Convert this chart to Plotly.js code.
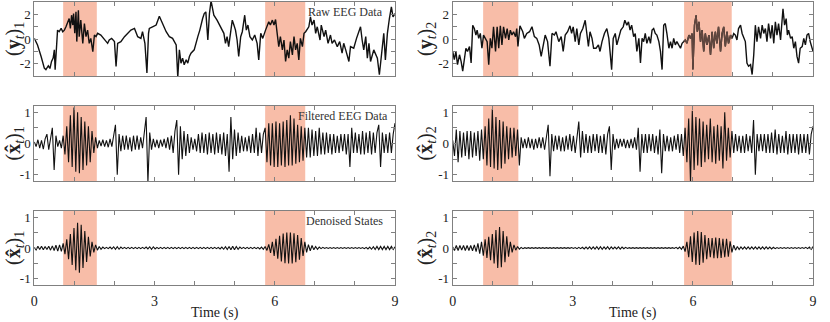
<!DOCTYPE html>
<html>
<head>
<meta charset="utf-8">
<script src="https://cdn.plot.ly/plotly-3.0.1.min.js"></script>
<style>html,body{margin:0;padding:0;background:#fff}#chart{width:830px;height:322px}</style>
</head>
<body>
<div id="chart"></div>
<script>
// ---- Data ----
const rawT1 = [0,0.08,0.17,0.25,0.29,0.35,0.39,0.43,0.47,0.50,0.52,0.56,0.58,0.62,0.67,0.71,0.75,0.79,0.83,0.87,0.90,0.93,0.96,0.98,1.01,1.04,1.06,1.10,1.12,1.16,1.21,1.25,1.29,1.33,1.37,1.41,1.46,1.50,1.54,1.58,1.66,1.75,1.83,1.87,1.93,2.00,2.04,2.08,2.16,2.25,2.33,2.41,2.50,2.58,2.66,2.70,2.76,2.81,2.85,2.87,2.95,3.04,3.12,3.16,3.20,3.29,3.37,3.45,3.54,3.58,3.62,3.66,3.70,3.74,3.79,3.83,3.87,3.91,3.99,4.03,4.08,4.13,4.16,4.20,4.24,4.28,4.33,4.37,4.41,4.48,4.56,4.65,4.73,4.77,4.81,4.85,4.90,4.94,4.98,5.02,5.06,5.10,5.15,5.19,5.25,5.29,5.33,5.38,5.44,5.50,5.56,5.60,5.65,5.70,5.77,5.81,5.85,5.89,5.94,5.98,6.02,6.06,6.10,6.14,6.19,6.23,6.27,6.31,6.35,6.39,6.44,6.48,6.52,6.56,6.60,6.64,6.69,6.73,6.77,6.85,6.89,6.93,6.98,7.02,7.06,7.13,7.16,7.23,7.27,7.33,7.39,7.43,7.49,7.56,7.62,7.68,7.72,7.77,7.85,7.89,7.97,8.04,8.10,8.14,8.18,8.22,8.27,8.31,8.35,8.39,8.47,8.56,8.61,8.68,8.72,8.76,8.81,8.86,8.91,8.95,9.00];
const rawV1 = [0.05,-0.48,-1.42,-2.36,-2.49,-2.17,-2.39,-1.82,-1.55,-0.88,
-2.49,-0.08,0.72,0.59,0.86,0.59,0.72,0.99,1.26,1.66,
0.86,1.93,1.13,2.06,0.46,2.2,-0.21,2.33,0.19,1.53,
-0.35,1.26,0.19,0.72,-0.35,0.05,-1.02,0.32,0.19,0.46,
0.32,-0.08,-0.35,-0.08,0.05,-0.21,-2.23,-0.35,-0.21,0.19,
0.46,0.72,0.86,0.19,0.05,0.59,-0.35,-2.76,0.46,0.86,
0.99,1.13,1.85,1.53,1.26,0.59,0.19,0.05,-0.48,-3.1,
-0.88,-1.96,-1.55,-2.09,-1.69,-1.96,-1.42,-1.15,-0.88,-0.35,
0.19,0.72,1.26,1.66,2.06,2.2,-0.08,2.06,3.1,1.93,
1.53,0.99,0.46,-0.35,0.19,-0.62,0.46,1.53,1.13,0.72,
-0.08,-1.42,0.19,0.59,1.93,0.72,1.13,0.19,-0.08,0.32,
-0.35,-1.69,0.46,0.05,0.72,0.99,1.39,1.13,1.53,1.13,
1.58,0.46,-0.62,0.19,-0.88,-0.08,-1.82,-0.88,-1.55,-0.21,
-1.29,0.19,-0.88,-0.35,-1.69,0.05,-0.62,0.46,0.59,0.99,
1.8,1.13,1.53,0.46,0.99,-0.08,1.13,0.19,0.72,-0.35,
0.32,-0.35,-0.08,-0.62,-0.21,-1.15,-0.35,-0.88,-1.82,-0.62,
-0.75,0.05,0.59,0.99,-0.08,-0.88,0.19,-1.55,-0.35,-1.82,
-0.88,-1.55,-2.9,-0.35,0.46,-1.69,0.46,1.66,2.6,1.8,
2.06];

const rawT2 = [0,0.04,0.08,0.12,0.17,0.21,0.25,0.29,0.33,0.37,
0.42,0.46,0.50,0.54,0.58,0.61,0.65,0.69,0.73,0.77,
0.82,0.86,0.90,0.94,0.98,1.02,1.07,1.11,1.15,1.19,
1.23,1.27,1.32,1.36,1.40,1.44,1.48,1.52,1.57,1.60,
1.63,1.68,1.75,1.79,1.85,1.92,1.98,2.04,2.10,2.16,
2.21,2.25,2.31,2.37,2.43,2.48,2.54,2.58,2.65,2.71,
2.76,2.81,2.87,2.93,2.97,3.01,3.06,3.10,3.15,3.19,
3.25,3.31,3.35,3.39,3.43,3.48,3.52,3.58,3.64,3.68,
3.73,3.79,3.85,3.90,3.93,3.97,4.01,4.06,4.10,4.16,
4.20,4.26,4.30,4.35,4.39,4.43,4.47,4.52,4.56,4.60,
4.65,4.69,4.73,4.77,4.81,4.85,4.90,4.94,4.98,5.02,
5.06,5.10,5.15,5.19,5.23,5.27,5.31,5.35,5.40,5.44,
5.48,5.52,5.56,5.60,5.65,5.69,5.73,5.77,5.81,5.85,
5.90,5.94,5.98,6.00,6.04,6.08,6.11,6.15,6.19,6.23,
6.27,6.31,6.35,6.40,6.44,6.48,6.52,6.56,6.60,6.64,
6.69,6.73,6.77,6.81,6.85,6.89,6.94,6.98,7.02,7.06,
7.10,7.14,7.19,7.23,7.31,7.35,7.39,7.44,7.48,7.52,
7.56,7.60,7.64,7.69,7.73,7.77,7.81,7.85,7.89,7.94,
7.98,8.02,8.06,8.10,8.14,8.19,8.23,8.25,8.29,8.33,
8.36,8.39,8.44,8.48,8.52,8.56,8.60,8.64,8.68,8.73,
8.77,8.81,8.85,8.89,8.93,8.98,9.00];
const rawV2 = [-1.01,-1.68,-1.01,-2.08,-1.28,-1.81,-2.61,-1.55,-0.75,-1.01,
-0.61,-1.95,1.12,0.85,0.32,0.72,0.05,0.45,-0.75,0.32,
0.05,-0.21,-2.08,0.05,-0.75,0.99,-1.01,0.99,-0.75,1.07,
-0.48,0.99,0.05,0.85,-0.08,0.72,0.32,0.59,0.19,0.85,
-0.61,1.07,0.59,0.05,0.45,0.59,0.99,0.19,0.05,-0.48,
-1.41,-0.75,0.32,-0.21,-2.21,0.45,0.32,0.59,-0.21,0.19,
-1.01,0.32,0.59,1.07,0.45,0.99,-0.21,0.85,-0.48,0.45,
0.85,1.52,0.45,-0.61,0.59,0.05,-0.75,-0.75,-0.48,-1.01,
-0.21,0.45,0.85,0.05,-1.01,-2.48,0.05,0.45,-0.48,0.32,
0.72,0.99,1.52,1.12,1.39,0.72,1.12,0.19,0.45,-1.01,
0.05,-1.95,0.05,-0.21,0.45,-0.35,0.19,-0.35,0.72,0.85,
0.45,0.32,-0.21,-1.01,-2.48,1.12,1.25,0.45,-0.75,-0.21,
-0.75,0.05,-0.48,-0.21,-0.48,-0.75,-0.35,-0.21,-0.08,-0.35,
0.32,0.05,0.45,-2.48,1.12,1.92,0.59,1.39,-0.21,0.72,
-1.01,0.45,-0.48,0.32,-1.28,0.59,-0.75,0.59,-0.35,0.99,
-1.01,0.45,0.99,-0.61,0.59,-0.35,0.32,0.05,0.45,0.32,
-0.08,0.85,1.12,0.45,-0.21,-1.95,-2.21,-2.08,-2.88,-1.28,
1.12,-0.21,0.99,0.05,1.12,0.45,0.85,-0.21,1.25,0.05,
1.12,-0.35,1.39,0.32,1.25,-0.08,1.92,2.45,1.12,1.65,
0.32,0.72,0.05,0.19,-0.75,-0.21,-1.41,-1.95,-0.75,-0.61,
0.05,-0.48,0.32,0.45,-0.21,-0.75,-1.0];

// filtered and denoised series: one value every 0.045 s from 0 to 9 s
const sampleStep = 0.045;
const filt1 = [0.05,-0.1,0.12,-0.15,0.1,-0.18,0.15,0.3,-0.2,0.2,
0.5,-0.85,0.25,-0.1,0.1,-0.15,0.25,-0.35,0.55,-0.6,
0.9,-0.75,1.15,-0.9,1.0,-0.95,0.85,-0.85,0.7,-0.7,
0.55,-0.6,0.4,-0.3,0.2,-0.15,0.1,-0.08,0.12,-0.1,
0.1,-0.12,0.15,-0.1,0.2,0.6,-1.0,0.3,-0.25,0.25,
-0.2,0.25,-0.2,0.2,-0.25,0.25,-0.2,0.25,-0.2,0.2,
-0.15,0.3,0.85,-1.25,0.35,-0.2,0.15,-0.12,0.12,-0.15,
0.12,-0.1,0.15,-0.15,0.2,-0.2,0.25,-0.3,0.4,0.75,
-1.0,0.55,-0.5,0.4,-0.4,0.3,-0.3,0.2,-0.2,0.15,
-0.25,0.3,-0.3,0.35,-0.3,0.3,-0.35,0.35,-0.3,0.3,
-0.35,0.35,-0.3,0.3,-0.35,0.35,-0.4,0.3,-0.9,0.85,
-0.5,0.45,-0.4,0.35,-0.3,0.25,-0.25,0.2,-0.25,0.25,
-0.3,0.3,-0.3,0.5,-0.4,0.35,-0.3,0.3,0.5,-0.6,
0.65,-0.7,0.65,-0.75,0.7,-0.75,0.65,-0.7,0.7,-0.75,
0.75,-0.7,0.9,-0.7,0.8,-0.65,0.6,-0.6,0.55,-0.55,
0.5,-0.45,0.5,-0.45,0.45,-0.4,0.4,-0.4,0.5,-0.35,
0.35,-0.35,0.35,-0.3,0.3,-0.35,0.3,-0.3,0.25,-0.3,
0.3,-0.25,0.3,-0.35,0.3,-0.75,0.5,-0.3,0.35,-0.3,
0.3,-0.35,0.4,-0.35,0.35,-0.3,0.4,-0.35,0.35,-0.3,
0.35,0.6,-0.75,0.35,-0.3,0.3,-0.3,0.35,-0.3,0.3,
0.65];
const filt2 = [0.1,-0.4,0.45,-0.6,0.4,-0.45,0.35,-0.4,0.4,-0.5,
0.4,-0.45,0.35,-0.4,0.4,-0.55,0.45,-0.5,0.55,-0.7,
0.8,-0.75,1.1,-0.8,0.85,-0.85,0.75,-0.8,0.7,-0.65,
0.55,-0.5,0.5,-0.45,0.5,-0.4,0.45,-0.7,0.2,-0.15,
0.15,-0.15,0.2,-0.15,0.15,-0.2,0.15,-0.15,0.2,-0.15,
0.2,-0.2,0.2,0.6,-1.05,0.3,-0.25,0.25,-0.2,0.25,
-0.25,0.2,-0.25,0.25,-0.2,0.3,-0.25,0.25,-0.3,0.3,
0.7,-0.45,0.4,-0.3,0.3,-0.3,0.25,-0.3,0.3,-0.25,
0.3,-0.3,0.25,-0.3,0.3,-0.35,0.3,0.55,-0.85,0.3,
-0.2,0.15,-0.15,0.15,-0.1,0.15,-0.15,0.12,-0.15,0.15,
-0.15,0.2,-0.2,0.5,-0.9,0.3,-0.3,0.3,-0.3,0.3,
-0.25,0.3,-0.3,0.25,-0.35,0.45,-0.95,0.3,-0.25,0.25,
-0.25,0.2,-0.25,0.25,-0.2,0.3,-0.3,0.3,-0.4,0.5,
-0.6,0.8,-1.25,1.05,-0.85,0.85,-0.7,0.8,-0.75,0.7,
-0.6,0.6,-0.5,0.8,-0.6,0.55,-0.65,0.6,-0.55,0.55,
-0.8,1.0,-0.55,0.5,-0.45,0.4,-0.3,0.3,-0.25,0.25,
-0.3,0.25,-0.3,0.3,-0.25,0.25,-0.3,0.75,-1.0,0.3,
-0.25,0.3,-0.25,0.3,-0.3,0.3,-0.3,0.35,-0.3,0.45,
-0.35,0.3,-0.3,0.25,-0.3,0.4,-0.35,0.3,-0.3,0.3,
-0.3,0.3,-0.35,0.3,-0.3,0.3,-0.3,0.3,-0.35,0.3,
0.55];
const den1 = [0.02,-0.06,0.06,-0.05,0.06,-0.06,0.05,-0.05,0.06,-0.07,
0.07,-0.08,0.09,-0.1,0.1,-0.11,0.15,-0.2,0.28,-0.36,
0.45,-0.55,0.65,-0.72,0.82,-0.8,0.75,-0.65,0.55,-0.45,
0.36,-0.27,0.2,-0.14,0.1,-0.07,0.05,-0.04,0.03,-0.02,
0.02,-0.02,0.03,-0.03,0.04,-0.04,0.04,-0.04,0.03,-0.02,
0.02,-0.02,0.02,-0.02,0.02,-0.02,0.02,-0.02,0.02,-0.02,
0.02,-0.02,0.03,-0.03,0.04,-0.04,0.04,-0.03,0.02,-0.02,
0.02,-0.02,0.02,-0.02,0.02,-0.02,0.02,-0.02,0.02,-0.02,
0.02,-0.02,0.02,-0.02,0.02,-0.02,0.02,-0.02,0.02,-0.02,
0.02,-0.02,0.02,-0.02,0.02,-0.02,0.02,-0.02,0.02,-0.02,
0.02,-0.02,0.02,-0.03,0.03,-0.04,0.04,-0.05,0.05,-0.06,
0.06,-0.06,0.05,-0.04,0.03,-0.02,0.02,-0.02,0.02,-0.02,
0.02,-0.02,0.02,-0.02,0.02,-0.03,0.03,-0.04,0.05,-0.08,
0.12,-0.16,0.2,-0.26,0.3,-0.35,0.4,-0.44,0.47,-0.49,
0.5,-0.5,0.5,-0.5,0.48,-0.46,0.42,-0.38,0.32,-0.26,
0.2,-0.14,0.11,-0.09,0.08,-0.06,0.05,-0.04,0.03,-0.02,
0.02,-0.015,0.015,-0.015,0.015,-0.015,0.015,-0.015,0.015,-0.015,
0.015,-0.015,0.015,-0.015,0.015,-0.015,0.015,-0.015,0.015,-0.015,
0.015,-0.015,0.015,-0.02,0.02,-0.03,0.03,-0.04,0.04,-0.05,
0.05,-0.05,0.05,-0.05,0.05,-0.05,0.05,-0.05,0.05,-0.05,
0.04];
const den2 = [0.03,-0.08,0.08,-0.08,0.08,-0.07,0.08,-0.08,0.08,-0.08,
0.08,-0.09,0.1,-0.12,0.15,-0.18,0.2,-0.25,0.28,-0.32,
0.36,-0.4,0.45,-0.5,0.58,-0.65,0.68,-0.62,0.55,-0.46,
0.38,-0.28,0.2,-0.14,0.1,-0.07,0.05,-0.04,0.02,-0.02,
0.01,-0.01,0.01,-0.01,0.01,-0.01,0.01,-0.01,0.01,-0.01,
0.01,-0.01,0.01,-0.01,0.01,-0.01,0.01,-0.01,0.01,-0.01,
0.01,-0.01,0.01,-0.01,0.01,-0.01,0.015,-0.015,0.015,-0.02,
0.02,-0.02,0.025,-0.03,0.03,-0.03,0.035,-0.035,0.035,-0.035,
0.04,-0.04,0.04,-0.04,0.035,-0.035,0.04,-0.04,0.035,-0.03,
0.03,-0.03,0.035,-0.035,0.03,-0.025,0.02,-0.015,0.01,-0.01,
0.01,-0.01,0.01,-0.01,0.01,-0.01,0.01,-0.01,0.01,-0.01,
0.01,-0.01,0.01,-0.01,0.01,-0.01,0.01,-0.01,0.01,-0.01,
0.01,-0.01,0.01,-0.015,0.02,-0.025,0.03,-0.04,0.06,-0.12,
0.2,-0.3,0.38,-0.45,0.5,-0.54,0.55,-0.55,0.52,-0.48,
0.42,-0.36,0.32,-0.3,0.32,-0.33,0.34,-0.33,0.32,-0.32,
0.3,-0.3,0.3,-0.28,0.22,-0.14,0.09,-0.07,0.05,-0.05,
0.035,-0.035,0.035,-0.035,0.035,-0.035,0.035,-0.035,0.035,-0.035,
0.035,-0.035,0.035,-0.035,0.035,-0.03,0.03,-0.03,0.025,-0.02,
0.015,-0.015,0.015,-0.015,0.015,-0.015,0.015,-0.015,0.015,-0.015,
0.015,-0.015,0.015,-0.015,0.015,-0.015,0.02,-0.02,0.03,-0.04,
0.05];

// shaded intervals (s)
const shadeLeft = [[0.72, 1.56], [5.76, 6.76]];
const shadeRight = [[0.76, 1.64], [5.78, 6.97]];
const xTickVals = [0,1,2,3,4,5,6,7,8,9];
const xTickText = ['0','','','3','','','6','','','9'];
const yTickVals1 = [-2,-1,0,1,2];
const yTickText1 = ['-2','','0','','2'];
const yTickVals2 = [-1,-0.5,0,0.5,1];
const yTickText2 = ['-1','','0','','1'];
const panelNotes = ['Raw EEG Data', 'Filtered EEG Data', 'Denoised States'];
const yTitles = [
  '(<b>y</b><sub><i>t</i></sub>)<sub>1</sub>', '(<b>y</b><sub><i>t</i></sub>)<sub>2</sub>',
  '(<b>x\u0302</b><sub><i>t</i></sub>)<sub>1</sub>', '(<b>x\u0302</b><sub><i>t</i></sub>)<sub>2</sub>',
  '(<b>x\u0302</b><sub><i>t</i></sub>)<sub>1</sub>', '(<b>x\u0302</b><sub><i>t</i></sub>)<sub>2</sub>'
];
const xLabel = 'Time (s)';

// ---- Layout ----
const W = 830, H = 322;
const serif = 'Liberation Serif, Times New Roman, Times, serif';
const axisGrey = '#808080';
const colDom = [[34.3/W, 395/W], [452.7/W, 813/W]];
const rowPx = [[2, 76], [106, 181], [211, 285]];
const rowDom = rowPx.map(r => [1 - r[1]/H, 1 - r[0]/H]);

// the part of channel 2 raw data inside its second marked interval is drawn dimmed
const dimStart = shadeRight[1][0], dimEnd = shadeRight[1][1];
const rawV2dim = rawV2.map((v, i) => {
  const tn = rawT2[Math.min(i + 1, rawT2.length - 1)], tp = rawT2[Math.max(i - 1, 0)];
  return (tn >= dimStart && tp <= dimEnd) ? v : null;
});

const line = (w, c) => ({color: c || '#111', width: w});
const traces = [
  {x: rawT1, y: rawV1, xaxis: 'x', yaxis: 'y', line: line(1.4)},
  {x: rawT2, y: rawV2, xaxis: 'x2', yaxis: 'y2', line: line(1.4)},
  {x: rawT2, y: rawV2dim, xaxis: 'x2', yaxis: 'y2', line: line(1.4, 'rgb(98,72,64)'), connectgaps: false},
  {x0: 0, dx: sampleStep, y: filt1, xaxis: 'x3', yaxis: 'y3', line: line(1.1)},
  {x0: 0, dx: sampleStep, y: filt2, xaxis: 'x4', yaxis: 'y4', line: line(1.1)},
  {x0: 0, dx: sampleStep, y: den1, xaxis: 'x5', yaxis: 'y5', line: line(1.1)},
  {x0: 0, dx: sampleStep, y: den2, xaxis: 'x6', yaxis: 'y6', line: line(1.1)}
].map(t => Object.assign({type: 'scatter', mode: 'lines', hoverinfo: 'skip', showlegend: false}, t));

const layout = {
  width: W, height: H,
  margin: {l: 0, r: 0, t: 0, b: 0},
  paper_bgcolor: '#fff', plot_bgcolor: '#fff',
  font: {family: serif, color: '#222', size: 12},
  showlegend: false,
  shapes: [], annotations: []
};

for (let k = 0; k < 6; k++) {
  const row = Math.floor(k / 2), col = k % 2;
  const sfx = k === 0 ? '' : String(k + 1);
  const bottom = row === 2;
  layout['xaxis' + sfx] = {
    domain: colDom[col], anchor: 'y' + sfx, range: [0, 9],
    tickmode: 'array', tickvals: xTickVals, ticktext: xTickText,
    showticklabels: bottom, ticks: 'inside', ticklen: 4, tickcolor: axisGrey,
    showline: true, linecolor: axisGrey, linewidth: 1, mirror: 'ticks',
    showgrid: false, zeroline: false, fixedrange: true,
    tickfont: {family: serif, size: 14, color: '#222'}, ticklabelstandoff: 3
  };
  layout['yaxis' + sfx] = {
    domain: rowDom[row], anchor: 'x' + sfx,
    range: row === 0 ? [-3, 3] : [-1.2, 1.2],
    tickmode: 'array',
    tickvals: row === 0 ? yTickVals1 : yTickVals2,
    ticktext: row === 0 ? yTickText1 : yTickText2,
    ticks: 'inside', ticklen: 4, tickcolor: axisGrey,
    showline: true, linecolor: axisGrey, linewidth: 1, mirror: 'ticks',
    showgrid: false, zeroline: false, fixedrange: true,
    tickfont: {family: serif, size: 13, color: '#222'}
  };
  const shades = col === 0 ? shadeLeft : shadeRight;
  shades.forEach((s) => {
    layout.shapes.push({
      type: 'rect', xref: 'x' + sfx, yref: 'y' + sfx + ' domain',
      x0: s[0], x1: s[1], y0: 0, y1: 1,
      fillcolor: 'rgb(248,189,168)', line: {width: 0}, layer: 'below'
    });
  });
  // y-axis label
  const rc = (rowPx[row][0] + rowPx[row][1]) / 2;
  layout.annotations.push({
    xref: 'paper', yref: 'paper', x: (col === 0 ? 14 : 426) / W, y: 1 - rc / H,
    text: yTitles[k], showarrow: false, textangle: -90,
    xanchor: 'center', yanchor: 'middle',
    font: {family: serif, size: 20, color: '#222'}
  });
  if (col === 0) {
    layout.annotations.push({
      xref: 'x' + sfx + ' domain', yref: 'y' + sfx + ' domain',
      x: row === 1 ? 0.985 : 0.972, y: 0.99,
      xanchor: 'right', yanchor: 'top',
      text: panelNotes[row], showarrow: false,
      font: {family: serif, size: 12, color: '#333'}
    });
  }
  if (bottom) {
    layout.annotations.push({
      xref: 'paper', yref: 'paper',
      x: (colDom[col][0] + colDom[col][1]) / 2, y: 1 - 313 / H,
      xanchor: 'center', yanchor: 'middle',
      text: xLabel, showarrow: false,
      font: {family: serif, size: 14, color: '#222'}
    });
  }
}

Plotly.newPlot('chart', traces, layout, {displayModeBar: false, staticPlot: true});
</script>
</body>
</html>
